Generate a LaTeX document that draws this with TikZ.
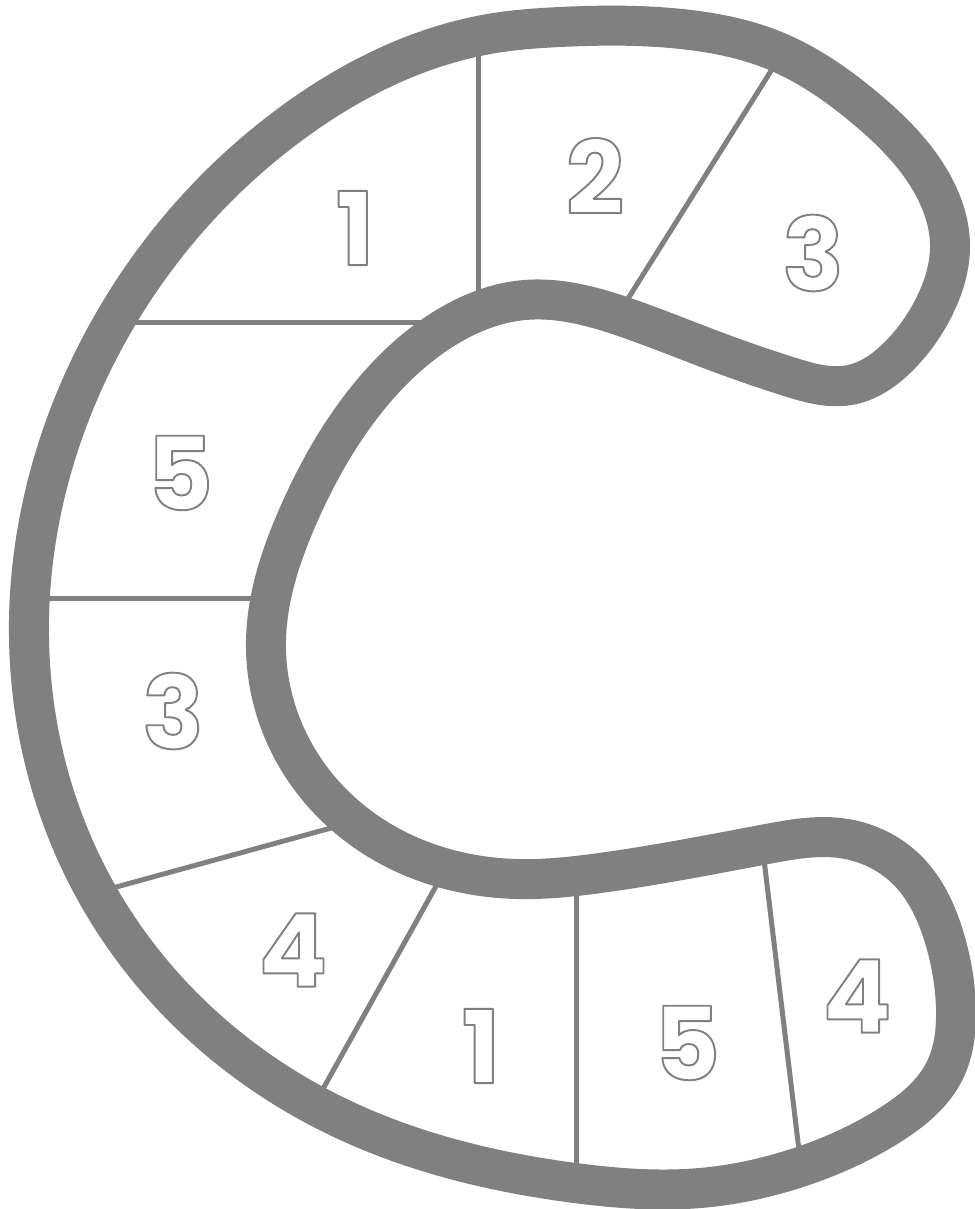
\documentclass[tikz,border=0pt]{standalone}
\usepackage{fontspec}
\usepackage{xcolor}
\usepackage{tikz}
\usetikzlibrary{hobby}
\newfontfamily\digitfont{Poppins}
\definecolor{boardgray}{RGB}{128,128,128}
% hollow digits: stroke the glyph outlines only
\newcommand{\bubbledigit}[1]{\special{pdf:literal direct 1 Tr 1 j 1.1 w}#1\special{pdf:literal direct 0 Tr}}

\begin{document}
\begin{tikzpicture}[x=0.02cm, y=-0.02cm,
    band/.style={draw=boardgray, line width=0.8cm, line join=round},
    divider/.style={draw=boardgray, line width=0.1cm},
    num/.style={text=boardgray, font=\digitfont\bfseries\fontsize{58}{58}\selectfont, inner sep=0pt}]
    \useasboundingbox (0,0) rectangle (974,1209);

    % cell borders (under the band)
    \draw[divider] (478,35) -- (478,297);
    \draw[divider] (115,322) -- (440,322);
    \draw[divider] (781,55) -- (619,313);
    \draw[divider] (29,598) -- (267,598);
    \draw[divider] (98,892) -- (342,825);
    \draw[divider] (445,870) -- (314,1105);
    \draw[divider] (576,880) -- (576,1183);
    \draw[divider] (762,843) -- (801,1167);

    % the track
    \draw[band, use Hobby shortcut, closed=true]
        (560,27) .. (690,30) .. (773,50) .. (865,108) .. (930,180) .. (950,245)
        .. (935,305) .. (900,355) .. (850,385) .. (790,377) .. (720,353)
        .. (627,318) .. (525,300) .. (433,336) .. (363,404) .. (298,516)
        .. (266,640) .. (290,745) .. (374,837) .. (517,879)
        .. (600,873) .. (767,844) .. (840,838) .. (905,868) .. (945,940)
        .. (956,1010) .. (945,1070) .. (890,1125) .. (800,1167) .. (700,1188)
        .. (575,1183) .. (330,1113) .. (95,890) .. (29,620) .. (96,355)
        .. (292,123) .. (495,33);

    % numbers
    \node[num] (topone) at (355,228) {\bubbledigit{1}};
    \node[num] (toptwo) at (595,176) {\bubbledigit{2}};
    \node[num] (topthree) at (813,253) {\bubbledigit{3}};
    \node[num] (leftfive) at (180,473) {\bubbledigit{5}};
    \node[num] (leftthree) at (173,711) {\bubbledigit{3}};
    \node[num] (lowfour) at (293,950) {\bubbledigit{4}};
    \node[num] (lowone) at (481,1046) {\bubbledigit{1}};
    \node[num] (lowfive) at (687,1043) {\bubbledigit{5}};
    \node[num] (lowfourr) at (857,996) {\bubbledigit{4}};
\end{tikzpicture}
\end{document}
